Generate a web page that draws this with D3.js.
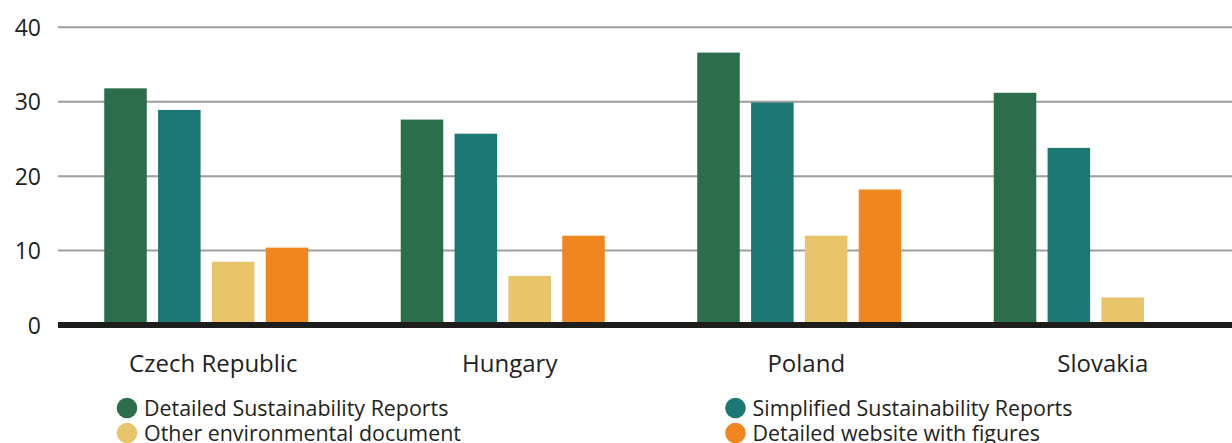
<!DOCTYPE html>
<html>
<head>
<meta charset="utf-8">
<script src="https://cdn.jsdelivr.net/npm/d3@7/dist/d3.min.js"></script>
<style>
  body { margin: 0; background: #fff; }
  text { font-family: "Open Sans", "Noto Sans", sans-serif; fill: #231f20; }
</style>
</head>
<body>
<script>
'use strict';

// chart data
const countries = ["Czech Republic", "Hungary", "Poland", "Slovakia"];
const seriesNames = [
  "Detailed Sustainability Reports",
  "Simplified Sustainability Reports",
  "Other environmental document",
  "Detailed website with figures"
];
const detailedReports   = [31.8, 27.6, 36.6, 31.2];
const simplifiedReports = [28.9, 25.7, 29.9, 23.8];
const otherDocument     = [8.5, 6.6, 12.0, 3.7];
const detailedWebsite   = [10.4, 12.0, 18.2, 0];
const yTicks = [0, 10, 20, 30, 40];

const colors = ["#2c6e4b", "#1b7873", "#e8c46a", "#ef8620"];

(function() {
  const width = 1232, height = 443;
  const allSeries = [detailedReports, simplifiedReports, otherDocument, detailedWebsite];

  const svg = d3.select('body')
    .append('svg')
    .attr('width', width)
    .attr('height', height);

  // scales
  const x0 = d3.scaleBand()
    .domain(countries)
    .range([58, 1244])
    .padding(0);

  const groupWidth = 204;
  const x1 = d3.scaleBand()
    .domain(d3.range(seriesNames.length))
    .range([0, groupWidth])
    .paddingInner(0.21);
  const groupOffset = (x0.bandwidth() - groupWidth) / 2;

  const y = d3.scaleLinear()
    .domain([0, 40])
    .range([325, 27.3]);

  // gridlines
  svg.append('g')
    .selectAll('line')
    .data(yTicks.filter(d => d > 0))
    .enter()
    .append('line')
      .attr('x1', 58)
      .attr('x2', width)
      .attr('y1', d => y(d))
      .attr('y2', d => y(d))
      .attr('stroke', '#9d9d9d')
      .attr('stroke-width', 2);

  // y axis labels
  const yAxis = d3.axisLeft(y).tickValues(yTicks).tickSize(0).tickPadding(0);
  const yg = svg.append('g')
    .attr('transform', 'translate(41, 0)')
    .call(yAxis);
  yg.select('.domain').remove();
  yg.selectAll('text')
    .style('font-family', '"Open Sans", sans-serif')
    .style('font-size', '23px')
    .attr('fill', '#231f20')
    .attr('dy', '0.35em');

  // bars
  const rows = countries.map((c, i) => ({
    country: c,
    values: allSeries.map((s, k) => ({ key: k, value: s[i] }))
  }));

  const groups = svg.append('g')
    .selectAll('g')
    .data(rows)
    .enter()
    .append('g')
      .attr('transform', d => 'translate(' + (x0(d.country) + groupOffset) + ',0)');

  groups.selectAll('rect')
    .data(d => d.values.filter(v => v.value > 0))
    .enter()
    .append('rect')
      .attr('x', d => x1(d.key))
      .attr('y', d => y(d.value))
      .attr('width', x1.bandwidth())
      .attr('height', d => y(0) - y(d.value))
      .attr('fill', d => colors[d.key]);

  // thick baseline
  svg.append('line')
    .attr('x1', 58)
    .attr('x2', width)
    .attr('y1', y(0))
    .attr('y2', y(0))
    .attr('stroke', '#1d1d1b')
    .attr('stroke-width', 6);

  // category labels
  const xAxis = d3.axisBottom(x0).tickSize(0).tickPadding(0);
  const xg = svg.append('g')
    .attr('transform', 'translate(7, 372)')
    .call(xAxis);
  xg.select('.domain').remove();
  xg.selectAll('text')
    .style('font-family', '"Open Sans", sans-serif')
    .style('font-size', '24px')
    .attr('fill', '#231f20')
    .attr('dy', 0)
    .attr('y', 0);

  // legend
  const legendPos = [
    { x: 127, y: 408 },
    { x: 735.5, y: 408 },
    { x: 127, y: 433 },
    { x: 735.5, y: 433 }
  ];
  const legend = svg.append('g')
    .selectAll('g')
    .data(seriesNames)
    .enter()
    .append('g')
      .attr('transform', (d, i) => 'translate(' + legendPos[i].x + ',' + legendPos[i].y + ')');

  legend.append('circle')
    .attr('r', 10.3)
    .attr('fill', (d, i) => colors[i]);

  legend.append('text')
    .attr('x', 17)
    .attr('y', 8)
    .style('font-size', '21.4px')
    .text(d => d);
})();
</script>
</body>
</html>
